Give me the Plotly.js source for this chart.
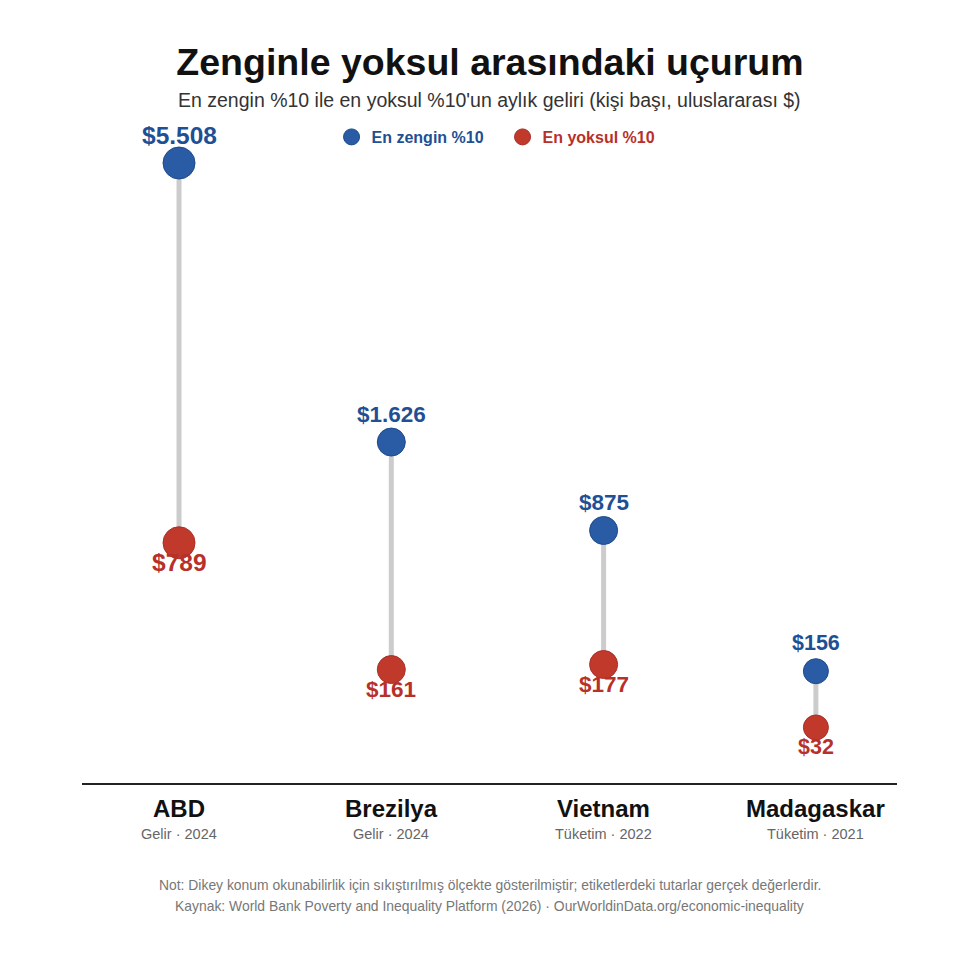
<!DOCTYPE html>
<html>
<head>
<meta charset="utf-8">
<script src="https://cdn.plot.ly/plotly-3.0.1.min.js"></script>
<style>html,body{margin:0;padding:0;background:#fff}#chart{width:980px;height:980px}</style>
</head>
<body>
<div id="chart"></div>
<script>
// ---- data ----
const countries = ["ABD", "Brezilya", "Vietnam", "Madagaskar"];
const basis = ["Gelir · 2024", "Gelir · 2024", "Tüketim · 2022", "Tüketim · 2021"];
const richest = [5508, 1626, 875, 156];
const poorest = [789, 161, 177, 32];
const seriesNames = ["En zengin %10", "En yoksul %10"];

// ---- styles ----
const blue = "#2a5ca6", blueLine = "#1e4a8a", blueText = "#1f4f94";
const red = "#c0392b", redLine = "#a8302a", redText = "#b8302a";
const font = "Liberation Sans, Arial, sans-serif";
const markerSizes = [32, 28, 28, 25];
const labelSizes = [24.5, 22.5, 22.5, 21.5];

const fmt = v => "$" + String(v).replace(/\B(?=(\d{3})+(?!\d))/g, ".");
const sq = v => Math.sqrt(v);
const xs = countries.map((c, i) => i);

const traces = [];
// connectors
countries.forEach((c, i) => {
  traces.push({
    type: "scatter", mode: "lines", x: [i, i], y: [sq(richest[i]), sq(poorest[i])],
    line: {color: "#cccccc", width: 5}, showlegend: false, hoverinfo: "skip"
  });
});
traces.push({
  type: "scatter", mode: "markers", name: '<span style="color:' + blueText + '">' + seriesNames[0] + '</span>',
  x: xs, y: richest.map(sq),
  marker: {color: blue, size: markerSizes, opacity: 1, line: {color: blueLine, width: 1}},
  text: richest.map(fmt), hoverinfo: "text"
});
traces.push({
  type: "scatter", mode: "markers", name: '<span style="color:' + redText + '">' + seriesNames[1] + '</span>',
  x: xs, y: poorest.map(sq),
  marker: {color: red, size: markerSizes, opacity: 1, line: {color: redLine, width: 1}},
  text: poorest.map(fmt), hoverinfo: "text"
});

const plotTop = 120, plotBottom = 783;
const py = px => (plotBottom - px) / (plotBottom - plotTop);

const annotations = [];
countries.forEach((c, i) => {
  annotations.push({x: i, y: sq(richest[i]), xref: "x", yref: "y", text: "<b>" + fmt(richest[i]) + "</b>",
    showarrow: false, yshift: 28, yanchor: "middle", font: {family: font, size: labelSizes[i], color: blueText}});
  annotations.push({x: i, y: sq(poorest[i]), xref: "x", yref: "y", text: "<b>" + fmt(poorest[i]) + "</b>",
    showarrow: false, yshift: -20, yanchor: "middle", font: {family: font, size: labelSizes[i], color: redText}});
  annotations.push({x: i, y: py(808), xref: "x", yref: "paper", text: "<b>" + c + "</b>", showarrow: false,
    yanchor: "middle", font: {family: font, size: 24, color: "#111"}});
  annotations.push({x: i, y: py(834), xref: "x", yref: "paper", text: basis[i], showarrow: false,
    yanchor: "middle", font: {family: font, size: 14.5, color: "#666"}});
});
annotations.push({xref: "paper", yref: "paper", x: 0.5, y: py(100),
  text: "En zengin %10 ile en yoksul %10'un aylık geliri (kişi başı, uluslararası $)", showarrow: false,
  yanchor: "middle", font: {family: font, size: 19.5, color: "#333"}});
annotations.push({xref: "paper", yref: "paper", x: 0.5, y: py(885),
  text: "Not: Dikey konum okunabilirlik için sıkıştırılmış ölçekte gösterilmiştir; etiketlerdeki tutarlar gerçek değerlerdir.",
  showarrow: false, yanchor: "middle", font: {family: font, size: 13.9, color: "#777"}});
annotations.push({xref: "paper", yref: "paper", x: 0.5, y: py(906),
  text: "Kaynak: World Bank Poverty and Inequality Platform (2026) · OurWorldinData.org/economic-inequality",
  showarrow: false, yanchor: "middle", font: {family: font, size: 13.9, color: "#777"}});

const layout = {
  width: 980, height: 980,
  paper_bgcolor: "#fff", plot_bgcolor: "#fff",
  margin: {l: 82, r: 83, t: plotTop, b: 980 - plotBottom},
  title: {text: "<b>Zenginle yoksul arasındaki uçurum</b>", x: 0.5, xanchor: "center", y: 1 - 62 / 980, yanchor: "middle",
    font: {family: font, size: 37.5, color: "#111"}},
  xaxis: {range: [-0.457, 3.382], showgrid: false, zeroline: false, showticklabels: false, ticks: "",
    showline: true, linecolor: "#222", linewidth: 2, fixedrange: true},
  yaxis: {range: [-1.09, 79.44], showgrid: false, zeroline: false, showticklabels: false, ticks: "", showline: false, fixedrange: true},
  showlegend: true,
  legend: {orientation: "h", x: 0.516, xanchor: "center", y: py(137), yanchor: "middle", entrywidth: 126,
    font: {family: font, size: 16, weight: "bold", color: blueText}, bgcolor: "rgba(0,0,0,0)", itemsizing: "trace"},
  annotations: annotations,
  font: {family: font}
};

Plotly.newPlot("chart", traces, layout, {displayModeBar: false, staticPlot: true});
</script>
</body>
</html>
